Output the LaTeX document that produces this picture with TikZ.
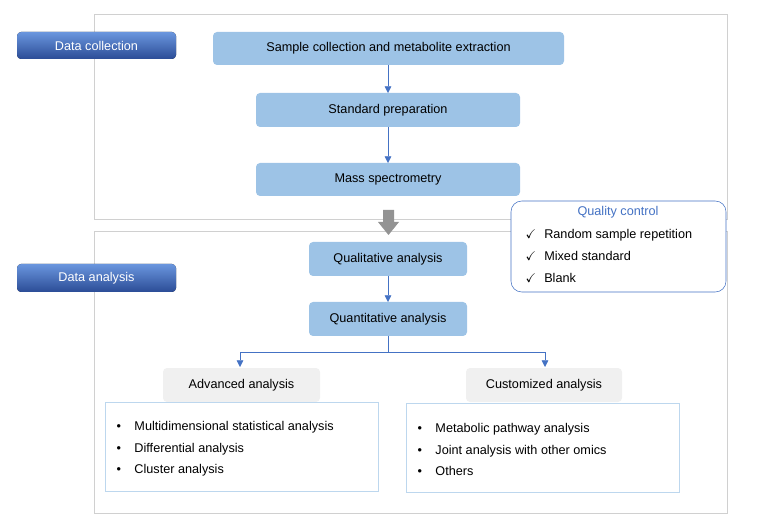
\documentclass[tikz,border=0pt]{standalone}
\usepackage{fontspec}
\setmainfont{Liberation Sans}
\usepackage{amssymb}
\usetikzlibrary{arrows.meta,positioning}
\definecolor{stepblue}{HTML}{9DC3E6}
\definecolor{linkblue}{HTML}{4472C4}
\definecolor{frame}{HTML}{D0D0D0}
\definecolor{tagtop}{HTML}{6A96DE}
\definecolor{tagbot}{HTML}{2B4C96}
\definecolor{softgray}{HTML}{F0F0F0}
\definecolor{listline}{HTML}{BDD7EE}
\tikzset{%
  stage/.style={rounded corners=3pt,fill=stepblue},
  tag/.style={rounded corners=3pt,top color=tagtop,bottom color=tagbot},
  head/.style={rounded corners=3pt,fill=softgray},
  txt/.style={font=\fontsize{9.5}{11}\selectfont},
  link/.style={draw=linkblue,-{Triangle[length=5pt,width=5pt]}}
}
\begin{document}
\begin{tikzpicture}[x=0.75pt,y=-0.75pt]
    \useasboundingbox (0,0) rectangle (757,527);
    \draw[frame] (94,14) rectangle (727,219);
    \draw[frame] (94,231) rectangle (727,513);
    %
    \fill[tag] (17,32) rectangle (176,59);
    \node[txt,text=white] (tc) at (96.5,45.5) {Data collection};
    \fill[tag] (17,264) rectangle (176,292);
    \node[txt,text=white] (ta) at (96.5,278) {Data analysis};
    %
    \fill[stage] (213,32) rectangle (564,65);
    \node[txt] (s1) at (388.5,48.5) {Sample collection and metabolite extraction};
    \fill[stage] (256,93) rectangle (520,127);
    \node[txt] (s2) at (388,110) {Standard preparation};
    \fill[stage] (256,163) rectangle (520,196);
    \node[txt] (s3) at (388,179.5) {Mass spectrometry};
    \coordinate (s1b) at (388,65);
    \coordinate (s2t) at (388,93);
    \coordinate (s2b) at (388,127);
    \coordinate (s3t) at (388,163);
    \draw[link] (s1b) -- (s2t);
    \draw[link] (s2b) -- (s3t);
    %
    \fill[gray!85] (383,210) -- (394,210) -- (394,222) -- (399,222) -- (388.5,235)
      -- (378,222) -- (383,222) -- cycle;
    %
    \fill[stage] (309,242) rectangle (467,276);
    \node[txt] (q1) at (388,259) {Qualitative analysis};
    \fill[stage] (309,302) rectangle (467,336);
    \node[txt] (q2) at (388,319) {Quantitative analysis};
    \coordinate (q1b) at (388,276);
    \coordinate (q2t) at (388,302);
    \coordinate (q2b) at (388,336);
    \coordinate (fork) at (388,352);
    \draw[link] (q1b) -- (q2t);
    %
    \coordinate (ad) at (240,367);
    \coordinate (cu) at (545,367);
    \draw[link] (q2b) -- (fork) -| (ad);
    \draw[link] (fork) -| (cu);
    %
    \fill[head] (163,368) rectangle (320,402);
    \node[txt] (h1) at (241.5,385) {Advanced analysis};
    \fill[head] (466,368) rectangle (622,402);
    \node[txt] (h2) at (544,385) {Customized analysis};
    %
    \draw[listline] (105,402) rectangle (378,491);
    \node[anchor=north west,align=left,font=\fontsize{9.5}{16}\selectfont] (l1) at (112,417)
      {\textbullet\hspace{10pt}Multidimensional statistical analysis\\
       \textbullet\hspace{10pt}Differential analysis\\
       \textbullet\hspace{10pt}Cluster analysis};
    \draw[listline] (406,403) rectangle (679,492);
    \node[anchor=north west,align=left,font=\fontsize{9.5}{16}\selectfont] (l2) at (413,419)
      {\textbullet\hspace{10pt}Metabolic pathway analysis\\
       \textbullet\hspace{10pt}Joint analysis with other omics\\
       \textbullet\hspace{10pt}Others};
    %
    \draw[linkblue,fill=white,rounded corners=8pt] (511,201) rectangle (726,292);
    \node[txt,text=linkblue] (qc) at (618,212) {Quality control};
    \node[anchor=north west,align=left,font=\fontsize{9.5}{16.5}\selectfont] (qi) at (521,225)
      {$\checkmark$\hspace{6pt}Random sample repetition\\
       $\checkmark$\hspace{6pt}Mixed standard\\
       $\checkmark$\hspace{6pt}Blank};
\end{tikzpicture}
\end{document}
